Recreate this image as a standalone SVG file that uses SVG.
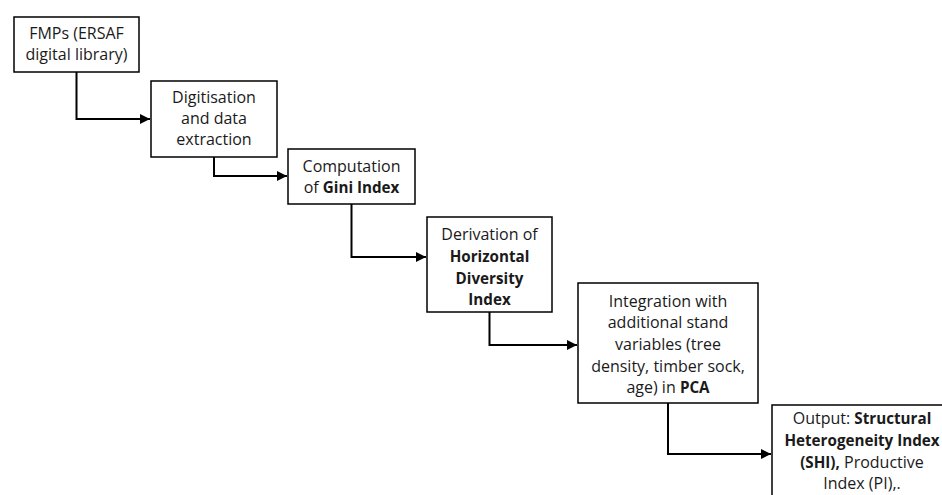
<svg xmlns="http://www.w3.org/2000/svg" width="942" height="495" viewBox="0 0 942 495">
<style>
.box{fill:#fff;stroke:#000;stroke-width:1.5}
.t{font-family:"Open Sans","Noto Sans",sans-serif;font-size:16px;fill:#1a1a1a;text-anchor:middle}
.b{font-weight:bold;font-size:15.2px}
.c{fill:none;stroke:#000;stroke-width:2}
</style>
<defs>
<marker id="ah" viewBox="0 0 10 10" refX="10" refY="5" markerWidth="5" markerHeight="5" orient="auto" markerUnits="strokeWidth">
<path d="M0,0 L10,5 L0,10 z" fill="#000"/>
</marker>
</defs>
<rect width="942" height="495" fill="#fff"/>
<g id="connectors">
<path class="c" d="M76.5,72 V119 H150" marker-end="url(#ah)"/>
<path class="c" d="M214,157 V176 H287" marker-end="url(#ah)"/>
<path class="c" d="M351.5,204 V257 H426" marker-end="url(#ah)"/>
<path class="c" d="M489.5,312 V345 H577" marker-end="url(#ah)"/>
<path class="c" d="M668,403 V454 H771" marker-end="url(#ah)"/>
</g>
<g id="n1">
<rect class="box" x="14" y="17" width="125" height="55"/>
<text class="t" x="76.5" y="39">FMPs (ERSAF</text>
<text class="t" x="76.5" y="60">digital library)</text>
</g>
<g id="n2">
<rect class="box" x="151" y="81" width="126" height="76"/>
<text class="t" x="214" y="103">Digitisation</text>
<text class="t" x="214" y="124">and data</text>
<text class="t" x="214" y="145">extraction</text>
</g>
<g id="n3">
<rect class="box" x="288" y="149" width="127" height="55"/>
<text class="t" x="351.5" y="172">Computation</text>
<text class="t" x="351.5" y="193">of <tspan class="b">Gini Index</tspan></text>
</g>
<g id="n4">
<rect class="box" x="427" y="217" width="125" height="95"/>
<text class="t" x="489.5" y="240">Derivation of</text>
<text class="t b" x="489.5" y="262">Horizontal</text>
<text class="t b" x="489.5" y="284">Diversity</text>
<text class="t b" x="489.5" y="305">Index</text>
</g>
<g id="n5">
<rect class="box" x="578" y="283" width="180" height="120"/>
<text class="t" x="668" y="307">Integration with</text>
<text class="t" x="668" y="328">additional stand</text>
<text class="t" x="668" y="350">variables (tree</text>
<text class="t" x="668" y="372">density, timber sock,</text>
<text class="t" x="668" y="393">age) in <tspan class="b">PCA</tspan></text>
</g>
<g id="n6">
<rect class="box" x="772" y="405" width="185" height="100"/>
<text class="t" x="862" y="424">Output: <tspan class="b">Structural</tspan></text>
<text class="t b" x="862" y="446">Heterogeneity Index</text>
<text class="t" x="862" y="468"><tspan class="b">(SHI),</tspan> Productive</text>
<text class="t" x="862" y="489">Index (PI),.</text>
</g>
</svg>
